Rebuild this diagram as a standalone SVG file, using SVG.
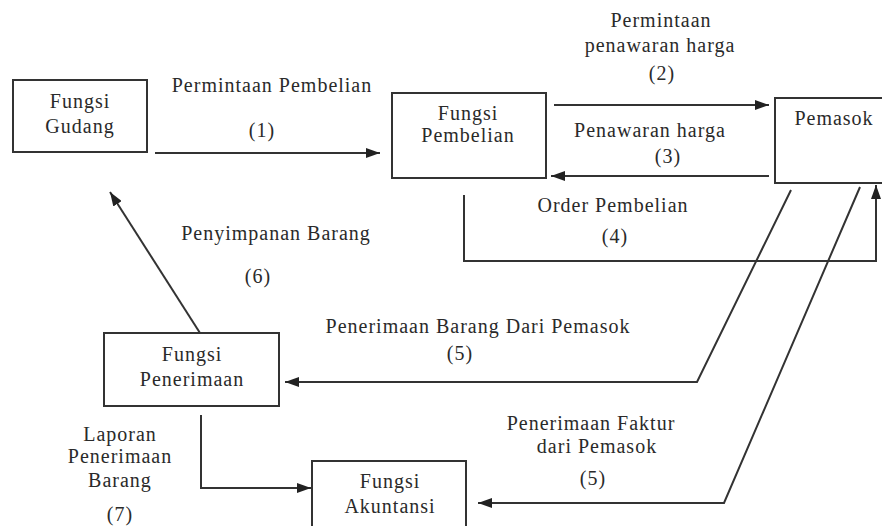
<svg xmlns="http://www.w3.org/2000/svg" width="882" height="526" viewBox="0 0 882 526">
<style>
text{font-family:"Liberation Serif","Times New Roman",serif;font-size:20px;fill:#2a2a2a;text-anchor:middle;letter-spacing:1px}
.box{fill:#fff;stroke:#333;stroke-width:2}
.ln{fill:none;stroke:#333;stroke-width:2}
</style>
<defs>
<marker id="ah" markerUnits="userSpaceOnUse" markerWidth="14" markerHeight="10" refX="14" refY="5" orient="auto">
<path d="M0,0 L14,5 L0,10 z" fill="#222"/>
</marker>
</defs>
<rect width="882" height="526" fill="#fff"/>
<g id="gudang"><rect class="box" x="13" y="80" width="134" height="72"/><text x="80" y="108">Fungsi</text><text x="80" y="133">Gudang</text></g>
<g id="pembelian"><rect class="box" x="392" y="93" width="154" height="85"/><text x="468" y="120">Fungsi</text><text x="468" y="142">Pembelian</text></g>
<g id="pemasok"><rect class="box" x="775" y="98" width="112" height="85"/><text x="834" y="125">Pemasok</text></g>
<g id="penerimaan"><rect class="box" x="104" y="333" width="175" height="73"/><text x="192" y="361">Fungsi</text><text x="192" y="386">Penerimaan</text></g>
<g id="akuntansi"><rect class="box" x="312" y="461" width="154" height="70"/><text x="390" y="488">Fungsi</text><text x="390" y="513">Akuntansi</text></g>
<g id="connectors">
<path class="ln" d="M155,153 H380" marker-end="url(#ah)"/>
<path class="ln" d="M554,105 H769" marker-end="url(#ah)"/>
<path class="ln" d="M769,176 H551" marker-end="url(#ah)"/>
<path class="ln" d="M464,195 V261 H876 V185" marker-end="url(#ah)"/>
<path class="ln" d="M791,190 L697,382 H285" marker-end="url(#ah)"/>
<path class="ln" d="M860,187 L724,503 H478" marker-end="url(#ah)"/>
<path class="ln" d="M200,333 L110,192" marker-end="url(#ah)"/>
<path class="ln" d="M201,415 V488 H311" marker-end="url(#ah)"/>
</g>
<g id="labels">
<text x="272" y="92">Permintaan Pembelian</text>
<text x="262" y="137">(1)</text>
<text x="661" y="27">Permintaan</text>
<text x="660" y="52">penawaran harga</text>
<text x="662" y="80">(2)</text>
<text x="650" y="137">Penawaran harga</text>
<text x="668" y="163">(3)</text>
<text x="613" y="212">Order Pembelian</text>
<text x="615" y="243">(4)</text>
<text x="276" y="240">Penyimpanan Barang</text>
<text x="258" y="283">(6)</text>
<text x="478" y="333">Penerimaan Barang Dari Pemasok</text>
<text x="460" y="360">(5)</text>
<text x="591" y="430">Penerimaan Faktur</text>
<text x="597" y="453">dari Pemasok</text>
<text x="593" y="485">(5)</text>
<text x="120" y="441">Laporan</text>
<text x="120" y="463">Penerimaan</text>
<text x="120" y="487">Barang</text>
<text x="120" y="521">(7)</text>
</g>
</svg>
